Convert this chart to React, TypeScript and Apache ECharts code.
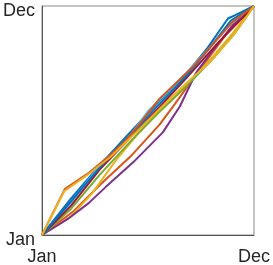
import React, { useEffect, useRef } from "react";
import * as echarts from "echarts";

const monthLabels = ["Jan", "Dec"];
const axisMin = 0;
const axisMax = 11;

const seriesNames = ["S1", "S2", "S3", "S4", "S5", "S6", "S7", "S8", "S9", "S10"];
const seriesColors = ["#0072BD", "#D95319", "#EDB120", "#7E2F8E", "#77AC30", "#4DBEEE", "#A2142F", "#0072BD", "#D95319", "#EDB120"];

const s1: number[][] = [[0, 0], [1.5, 1.75], [3, 3.35], [4.5, 4.85], [6, 6.35], [7.5, 7.75], [8.6, 9.0], [9.65, 10.4], [10, 10.55], [11, 11]];
const s2: number[][] = [[0, 0], [1.65, 1.15], [3.0, 2.4], [4.6, 3.78], [6.1, 5.3], [6.9, 6.3], [7.6, 7.2], [8.6, 8.45], [9.8, 9.95], [11, 11]];
const s3: number[][] = [[0, 0], [1.5, 0.9], [2.6, 2.0], [3.8, 3.55], [5, 4.9], [6.3, 6.1], [7.5, 7.2], [8.8, 8.5], [9.9, 9.7], [11, 11]];
const s4: number[][] = [[0, 0], [1.34, 0.77], [2.42, 1.53], [3.3, 2.3], [4.73, 3.49], [6.27, 4.93], [7.15, 6.17], [8.0, 7.8], [8.84, 8.85], [9.92, 10.1], [11, 11]];
const s5: number[][] = [[0, 0], [1.5, 1.25], [3, 2.9], [4.5, 4.4], [6, 5.85], [7.5, 7.15], [9, 8.6], [10, 9.7], [11, 11]];
const s6: number[][] = [[0, 0], [1.4, 1.45], [3.0, 3.35], [4.4, 4.55], [5.5, 5.95], [7, 7.3], [8.5, 8.8], [9.8, 10.15], [11, 11]];
const s7: number[][] = [[0, 0], [1.5, 1.4], [3, 3.15], [4.5, 4.6], [6, 6.05], [7.5, 7.55], [9, 9.1], [11, 11]];
const s8: number[][] = [[0, 0], [1.5, 1.6], [3, 3.25], [4.5, 4.7], [6, 6.2], [7.5, 7.65], [8.8, 9.1], [9.8, 10.3], [11, 11]];
const s9: number[][] = [[0, 0], [1.18, 2.2], [2.45, 3.0], [3.5, 3.8], [4.4, 4.6], [4.9, 5.15], [6.1, 6.55], [7.8, 8.05], [8.8, 9.1], [9.9, 10.25], [11, 11]];
const s10: number[][] = [[0, 0], [1.15, 2.1], [2.45, 2.95], [3.55, 3.75], [4.9, 4.95], [6.2, 6.15], [7.5, 7.3], [8.7, 8.3], [9.9, 9.55], [11, 11]];

const seriesData = [s1, s2, s3, s4, s5, s6, s7, s8, s9, s10];

export default function App() {
  const ref = useRef<HTMLDivElement>(null);
  useEffect(() => {
    if (!ref.current) return;
    const chart = echarts.init(ref.current, undefined, { renderer: "svg" });
    const labelFmt = (v: number) => (v === axisMin ? monthLabels[0] : v === axisMax ? monthLabels[1] : "");
    const font = { fontFamily: "Liberation Sans, Arial, sans-serif", fontSize: 18, color: "#262626" };
    chart.setOption({
      animation: false,
      grid: { left: 41, top: 6, right: 18, bottom: 29, show: true, borderColor: "#8a8a8a", borderWidth: 1 },
      xAxis: {
        type: "value",
        min: axisMin,
        max: axisMax,
        interval: 11,
        axisLine: { show: true, lineStyle: { color: "#555", width: 1 } },
        axisTick: { show: false },
        splitLine: { show: false },
        axisLabel: { ...font, margin: 12, formatter: labelFmt, showMinLabel: true, showMaxLabel: true },
      },
      yAxis: {
        type: "value",
        min: axisMin,
        max: axisMax,
        interval: 11,
        axisLine: { show: true, lineStyle: { color: "#555", width: 1 } },
        axisTick: { show: false },
        splitLine: { show: false },
        axisLabel: { ...font, margin: 7, formatter: labelFmt, verticalAlign: "top", lineHeight: 18, padding: [-5, 0, 0, 0] },
      },
      series: seriesData.map((d, i) => ({
        name: seriesNames[i],
        type: "line",
        data: d,
        showSymbol: false,
        symbol: "none",
        lineStyle: { color: seriesColors[i], width: 2 },
        itemStyle: { color: seriesColors[i] },
      })),
    });
    return () => chart.dispose();
  }, []);
  return <div ref={ref} style={{ position: "fixed", left: 0, top: 0, width: 273, height: 265 }} />;
}
